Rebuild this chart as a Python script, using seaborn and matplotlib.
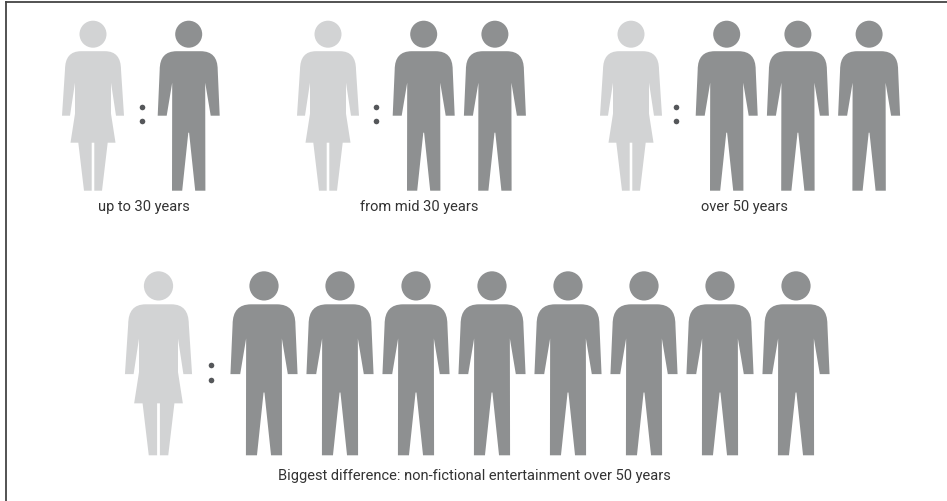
import pandas as pd
import seaborn as sns
import matplotlib
matplotlib.use('Agg')
import matplotlib.pyplot as plt
from matplotlib.path import Path
from matplotlib.transforms import Affine2D

# men per one woman, top row then the big one
top_labels = ['up to 30 years', 'from mid 30 years', 'over 50 years']
top_men = [1, 2, 3]
bottom_label = 'Biggest difference: non-fictional entertainment over 50 years'
bottom_men = [8]

WOMAN_COLOR = '#d2d3d4'
MAN_COLOR = '#8e9091'
DOT_COLOR = '#55575a'
TEXT_COLOR = '#333333'

DPI = 100


def person_marker(outline, head_r=13.5):
    # glyph in picture pixels, origin at middle of the figure, y up
    verts = []
    codes = []
    for i, (x, y, code) in enumerate(outline):
        verts.append((x, y))
        codes.append(Path.MOVETO if i == 0 else code)
    verts.append(verts[0])
    codes.append(Path.CLOSEPOLY)
    body = Path(verts, codes)
    head = Path.unit_circle().transformed(Affine2D().scale(head_r).translate(0, 85 - head_r))
    return Path.make_compound_path(head, body)


L = Path.LINETO
C = Path.CURVE3

man_outline = [
    (0, 54.5, L), (12, 54.5, L), (29, 54.5, C), (29, 36, C), (31, -10, L), (22, -10, L),
    (16.5, 23, L), (16.7, -85, L), (6.5, -85, L), (0.4, -27, L),
    (-0.4, -27, L), (-6.5, -85, L), (-16.7, -85, L), (-16.5, 23, L),
    (-22, -10, L), (-31, -10, L), (-29, 36, L), (-29, 54.5, C), (-12, 54.5, C),
]
woman_outline = [
    (0, 54.5, L), (12, 54.5, L), (28, 54.5, C), (28, 36, C), (31, -10, L), (23, -10, L),
    (18, 23, L), (18, -8, L), (22.5, -37, L), (14.7, -37, L), (9, -85, L),
    (1.3, -85, L), (1.3, -37, L), (-1.3, -37, L), (-1.3, -85, L), (-9, -85, L),
    (-14.7, -37, L), (-22.5, -37, L), (-18, -8, L), (-18, 23, L),
    (-23, -10, L), (-31, -10, L), (-28, 36, L), (-28, 54.5, C), (-12, 54.5, C),
]
MAN = person_marker(man_outline)
WOMAN = person_marker(woman_outline)


def build_row(men_counts, starts, y, gap_pair, gap_men):
    rows = []
    for group, (men, start) in enumerate(zip(men_counts, starts)):
        rows.append({'x': start, 'y': y, 'who': 'woman', 'group': group})
        for i in range(men):
            rows.append({'x': start + gap_pair + i * gap_men, 'y': y, 'who': 'man', 'group': group})
    return pd.DataFrame(rows)


sns.set_theme(style='white')
plt.rcParams['font.family'] = ['Roboto', 'Liberation Sans', 'DejaVu Sans']

fig = plt.figure(figsize=(9.47, 5.02), dpi=DPI)
ax = fig.add_axes([6 / 947, 0, 941 / 947, 499 / 502])
ax.set_xlim(6, 947)
ax.set_ylim(502, 3)

top_df = build_row(top_men, [93, 328, 631], 106.7, 95.7, 71.2)
bottom_df = build_row(bottom_men, [158.5], 364.3, 105.5, 76)


def draw_people(df, height_px):
    size = (height_px * 72 / DPI) ** 2
    sns.scatterplot(data=df, x='x', y='y', hue='who', style='who',
                    palette={'woman': WOMAN_COLOR, 'man': MAN_COLOR},
                    markers={'woman': WOMAN, 'man': MAN},
                    s=size, linewidth=0, legend=False, ax=ax, clip_on=False)


draw_people(top_df, 170)
draw_people(bottom_df, 184)

# the colons between woman and men
colons = pd.DataFrame({
    'x': [142, 142, 376, 376, 676, 676, 211, 211],
    'y': [108, 122, 108, 122, 108, 122, 366, 381],
})
sns.scatterplot(data=colons, x='x', y='y', color=DOT_COLOR, s=(5.6 * 72 / DPI) ** 2,
                linewidth=0, legend=False, ax=ax)

for label, cx in zip(top_labels, [144, 419.5, 744.5]):
    ax.text(cx, 211, label, ha='center', va='baseline', fontsize=10.55, color=TEXT_COLOR)
ax.text(474.5, 480, bottom_label, ha='center', va='baseline', fontsize=10.55, color=TEXT_COLOR)

ax.set(xlabel='', ylabel='', xticks=[], yticks=[])
sns.despine(ax=ax, top=False, left=False, right=True, bottom=True)
for side in ['top', 'left']:
    ax.spines[side].set_color('#444444')
    ax.spines[side].set_linewidth(1.3)

fig.savefig('out.png', dpi=DPI)
